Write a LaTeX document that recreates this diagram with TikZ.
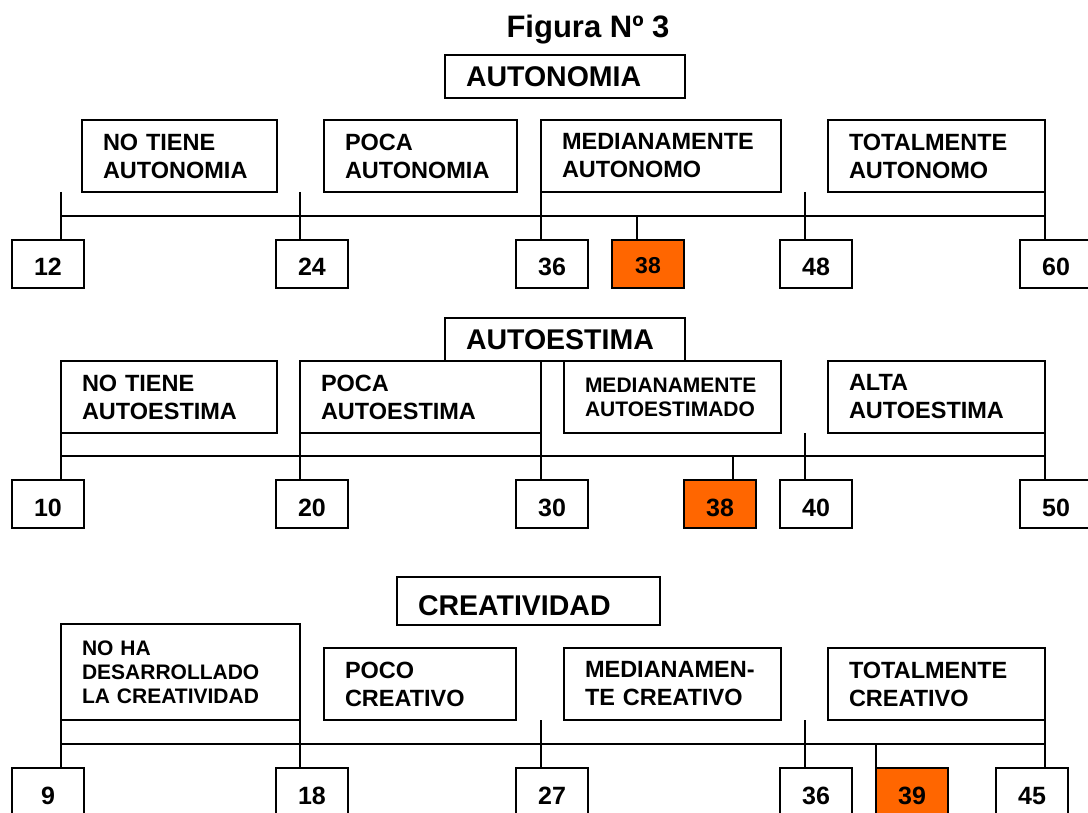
\documentclass[tikz,border=0pt]{standalone}
\usepackage{fontspec}
\setmainfont{Liberation Sans}
\usetikzlibrary{positioning}
\definecolor{hotOrange}{RGB}{255,102,0}

\begin{document}
\begin{tikzpicture}[x=1pt, y=-1pt, line width=1.5pt,
    every node/.style={draw, anchor=north west, outer sep=0pt},
    headBox/.style={align=left, inner xsep=21pt, text width=#1, minimum height=43pt, font=\fontsize{28.5}{32}\selectfont\bfseries},
    catBox/.style={align=left, inner xsep=21pt, text width=#1, minimum height=72pt, font=\fontsize{23.5}{28}\selectfont\bfseries},
    smallCat/.style={catBox=#1, font=\fontsize{21}{24}\selectfont\bfseries},
    numBox/.style={minimum width=72pt, minimum height=48pt, inner sep=0pt, text height=24pt, text depth=0pt, font=\fontsize{25}{30}\selectfont\bfseries},
    hotBox/.style={numBox, fill=hotOrange}]

    \useasboundingbox (0,0) rectangle (1088,813);

    % Title
    \node (title) [draw=none, anchor=center, font=\fontsize{31}{35}\selectfont\bfseries] at (588,30) {Figura Nº 3};

    % Nodes - Autonomia
    \node (autonomia) [headBox=198pt] at (445,55) {AUTONOMIA};
    \node (noTieneAut) [catBox=153pt] at (82,120) {NO TIENE\\AUTONOMIA};
    \node (pocaAut) [catBox=151pt] at (324,120) {POCA\\AUTONOMIA};
    \node (medAut) [catBox=198pt] at (541,120) {MEDIANAMENTE\\AUTONOMO};
    \node (totAut) [catBox=175pt] at (828,120) {TOTALMENTE\\AUTONOMO};
    \node (a12) [numBox] at (12,240) {12};
    \node (a24) [numBox] at (276,240) {24};
    \node (a36) [numBox] at (516,240) {36};
    \node (a38) [hotBox, text height=20pt, font=\fontsize{23}{28}\selectfont\bfseries] at (612,240) {38};
    \node (a48) [numBox] at (780,240) {48};
    \node (a60) [numBox] at (1020,240) {60};

    % Nodes - Autoestima
    \node (autoestima) [headBox=198pt] at (445,318) {AUTOESTIMA};
    \node (noTieneEst) [catBox=174pt] at (61,361) {NO TIENE\\AUTOESTIMA};
    \node (pocaEst) [catBox=199pt] at (300,361) {POCA\\AUTOESTIMA};
    \node (medEst) [smallCat=175pt] at (564,361) {MEDIANAMENTE\\AUTOESTIMADO};
    \node (altaEst) [catBox=175pt] at (828,361) {ALTA\\AUTOESTIMA};
    \node (e10) [numBox] at (12,480) {10};
    \node (e20) [numBox] at (276,480) {20};
    \node (e30) [numBox] at (516,480) {30};
    \node (e38) [hotBox] at (684,480) {38};
    \node (e40) [numBox] at (780,480) {40};
    \node (e50) [numBox] at (1020,480) {50};

    % Nodes - Creatividad
    \node (creatividad) [headBox=221pt, minimum height=48pt, text height=28pt, text depth=0pt] at (397,577) {CREATIVIDAD};
    \node (noHaCre) [smallCat=197pt, minimum height=96pt] at (61,624) {NO HA\\DESARROLLADO\\LA CREATIVIDAD};
    \node (pocoCre) [catBox=150pt] at (324,648) {POCO\\CREATIVO};
    \node (medCre) [catBox=175pt] at (564,648) {MEDIANAMEN-\\TE CREATIVO};
    \node (totCre) [catBox=175pt] at (828,648) {TOTALMENTE\\CREATIVO};
    \node (c9) [numBox] at (12,768) {9};
    \node (c18) [numBox] at (276,768) {18};
    \node (c27) [numBox] at (516,768) {27};
    \node (c36) [numBox] at (780,768) {36};
    \node (c39) [hotBox] at (876,768) {39};
    \node (c45) [numBox] at (996,768) {45};

    % Lines - Autonomia
    \coordinate (ta1) at (61,192);
    \coordinate (ta2) at (300,192);
    \coordinate (ta3) at (805,192);
    \coordinate (oa) at (637,216);
    \draw (ta1 |- oa) -- (totAut.south east |- oa);
    \draw (ta1) -- (ta1 |- a12.north);
    \draw (ta2) -- (ta2 |- a24.north);
    \draw (medAut.south west) -- (medAut.south west |- a36.north);
    \draw (oa) -- (oa |- a38.north);
    \draw (ta3) -- (ta3 |- a48.north);
    \draw (totAut.south east) -- (totAut.south east |- a60.north);

    % Lines - Autoestima
    \coordinate (te1) at (805,433);
    \coordinate (oe) at (733,456);
    \draw (noTieneEst.south west |- oe) -- (altaEst.south east |- oe);
    \draw (noTieneEst.south west) -- (noTieneEst.south west |- e10.north);
    \draw (pocaEst.south west) -- (pocaEst.south west |- e20.north);
    \draw (pocaEst.south east) -- (pocaEst.south east |- e30.north);
    \draw (oe) -- (oe |- e38.north);
    \draw (te1) -- (te1 |- e40.north);
    \draw (altaEst.south east) -- (altaEst.south east |- e50.north);

    % Lines - Creatividad
    \coordinate (tc1) at (541,720);
    \coordinate (tc2) at (805,720);
    \coordinate (oc) at (876,744);
    \draw (noHaCre.south west |- oc) -- (totCre.south east |- oc);
    \draw (noHaCre.south west) -- (noHaCre.south west |- c9.north);
    \draw (noHaCre.south east) -- (noHaCre.south east |- c18.north);
    \draw (tc1) -- (tc1 |- c27.north);
    \draw (tc2) -- (tc2 |- c36.north);
    \draw (oc) -- (c39.north west);
    \draw (totCre.south east) -- (totCre.south east |- c45.north);
\end{tikzpicture}
\end{document}
